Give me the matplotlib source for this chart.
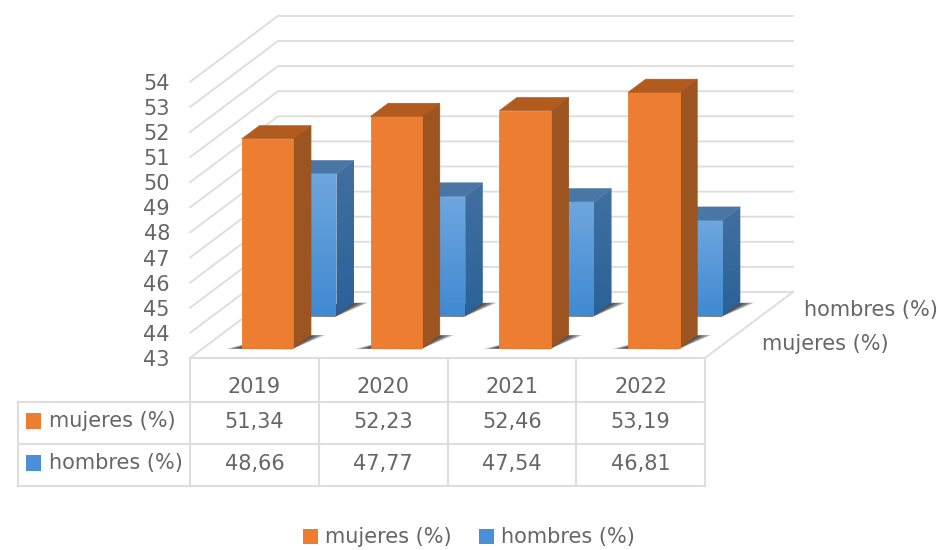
#!/usr/bin/env python3
"""Mujeres / hombres por ano: Excel-style 3D columns with a data table underneath."""
import matplotlib
matplotlib.use("Agg")
import matplotlib.pyplot as plt
import numpy as np
from matplotlib.colors import LinearSegmentedColormap
from matplotlib.patches import Polygon, Rectangle

YEARS = ["2019", "2020", "2021", "2022"]
MUJERES = [51.34, 52.23, 52.46, 53.19]
HOMBRES = [48.66, 47.77, 47.54, 46.81]
TICKS = list(range(43, 55))
NAMES = ["mujeres (%)", "hombres (%)"]

TEXT = "#666666"
GRID = "#dedede"
FS = 15

plt.rcParams.update({"font.family": "DejaVu Sans", "font.size": FS})

# oblique projection of the chart box to picture coordinates
X0, Y0 = 190.0, 358.0
CAT_W = 128.75
DX, DY = 88.0, 66.0
UNIT = 25.1
V0 = TICKS[0]
BAR_W = 0.4


def proj(c, d, v):
    return X0 + CAT_W * c + DX * d, Y0 - DY * d - UNIT * (v - V0)


def gradient(ax, poly, top, bottom, z):
    xs = [p[0] for p in poly]
    ys = [p[1] for p in poly]
    cmap = LinearSegmentedColormap.from_list("g", [top, bottom])
    im = ax.imshow(np.linspace(0, 1, 64)[:, None], cmap=cmap, aspect="auto",
                   extent=(min(xs), max(xs), max(ys), min(ys)), zorder=z)
    im.set_clip_path(Polygon(poly, closed=True, transform=ax.transData))


def shadow(ax, c, d0, d1):
    l, r = c - BAR_W / 2, c + BAR_W / 2
    for k in [1.0, 0.8, 0.6, 0.4, 0.2]:
        e = 0.11 * k
        pts = [proj(l - e, d0 - 0.012 * k, V0), proj(r, d0 - 0.02 * k, V0),
               proj(r + e, d1, V0), proj(l + 0.1, d1 - 0.05, V0)]
        ax.add_patch(Polygon(pts, closed=True, fc="#2a2a2a", ec="none",
                             alpha=0.3, zorder=2))


def prism(ax, c, v, d0, d1, front, side, top, z):
    l, r = c - BAR_W / 2, c + BAR_W / 2
    shadow(ax, c, d0, d1)
    f = [proj(l, d0, V0), proj(r, d0, V0), proj(r, d0, v), proj(l, d0, v)]
    s = [proj(r, d0, V0), proj(r, d1, V0), proj(r, d1, v), proj(r, d0, v)]
    t = [proj(l, d0, v), proj(r, d0, v), proj(r, d1, v), proj(l, d1, v)]
    if isinstance(front, tuple):
        gradient(ax, f, *front, z)
        gradient(ax, s, *side, z)
    else:
        # edge in the face colour so no seam shows between faces
        ax.add_patch(Polygon(s, closed=True, fc=side, ec=side, lw=0.6, zorder=z))
        ax.add_patch(Polygon(f, closed=True, fc=front, ec=front, lw=0.6, zorder=z))
    ax.add_patch(Polygon(t, closed=True, fc=top, ec=top, lw=0.4, zorder=z))


def walls(ax):
    n = len(YEARS)
    for v in TICKS:
        ax.plot(*zip(proj(0, 0, v), proj(0, 1, v), proj(n, 1, v)),
                color=GRID, lw=1.4, zorder=1, solid_capstyle="round")
        x, y = proj(0, 0, v)
        ax.text(x - 20, y + 2, str(v), ha="right", va="center",
                color=TEXT, fontsize=FS)
    ax.plot(*zip(proj(n, 0, V0), proj(n, 1, V0)), color=GRID, lw=1.4, zorder=1)
    # depth axis labels
    ax.text(X0 + CAT_W * n + 57, 344, NAMES[0], ha="left", va="center", color=TEXT)
    ax.text(X0 + CAT_W * n + 99, 310, NAMES[1], ha="left", va="center", color=TEXT)


def table(ax):
    n = len(YEARS)
    right = X0 + CAT_W * n
    left = 18
    rows = [Y0, 402, 443.5, 485.5]
    ax.plot([X0, right], [rows[0]] * 2, color=GRID, lw=1.5, zorder=1)
    for y in rows[1:]:
        ax.plot([left, right], [y, y], color=GRID, lw=1.5, zorder=1)
    ax.plot([left, left], [rows[1], rows[3]], color=GRID, lw=1.5, zorder=1)
    for i in range(n + 1):
        x = X0 + CAT_W * i
        ax.plot([x, x], [rows[0], rows[3]], color=GRID, lw=1.5, zorder=1)
    for i, yr in enumerate(YEARS):
        xc = X0 + CAT_W * (i + 0.5)
        ax.text(xc, 387, yr, ha="center", va="center", color=TEXT)
        ax.text(xc, 422, f"{MUJERES[i]:.2f}".replace(".", ","), ha="center",
                va="center", color=TEXT)
        ax.text(xc, 464, f"{HOMBRES[i]:.2f}".replace(".", ","), ha="center",
                va="center", color=TEXT)
    for name, y, col in [(NAMES[0], 421, "#ed7d31"), (NAMES[1], 463, "#4a90d9")]:
        ax.add_patch(Rectangle((26, y - 8), 15, 16, fc=col, ec="none"))
        ax.text(49, y, name, ha="left", va="center", color=TEXT)


def legend(ax):
    y = 537
    for name, x, col in [(NAMES[0], 303, "#ed7d31"), (NAMES[1], 479, "#4a90d9")]:
        ax.add_patch(Rectangle((x, y - 8), 15, 15, fc=col, ec="none"))
        ax.text(x + 22, y, name, ha="left", va="center", color=TEXT)


def main():
    fig = plt.figure(figsize=(9.42, 5.5), dpi=100)
    ax = fig.add_axes([0, 0, 1, 1])
    walls(ax)
    for i, v in enumerate(HOMBRES):
        prism(ax, i + 0.5, v, 0.64, 0.84, ("#6ea6de", "#3f8ad2"),
              ("#41709f", "#2b619a"), "#4a76a6", 3)
    for i, v in enumerate(MUJERES):
        prism(ax, i + 0.5, v, 0.15, 0.35, "#ed7d31", "#9c5420", "#b25b1f", 4)
    table(ax)
    legend(ax)
    ax.set_xlim(0, 942)
    ax.set_ylim(550, 0)
    ax.axis("off")
    fig.savefig("out.png", dpi=100)
    plt.close(fig)


if __name__ == "__main__":
    main()
